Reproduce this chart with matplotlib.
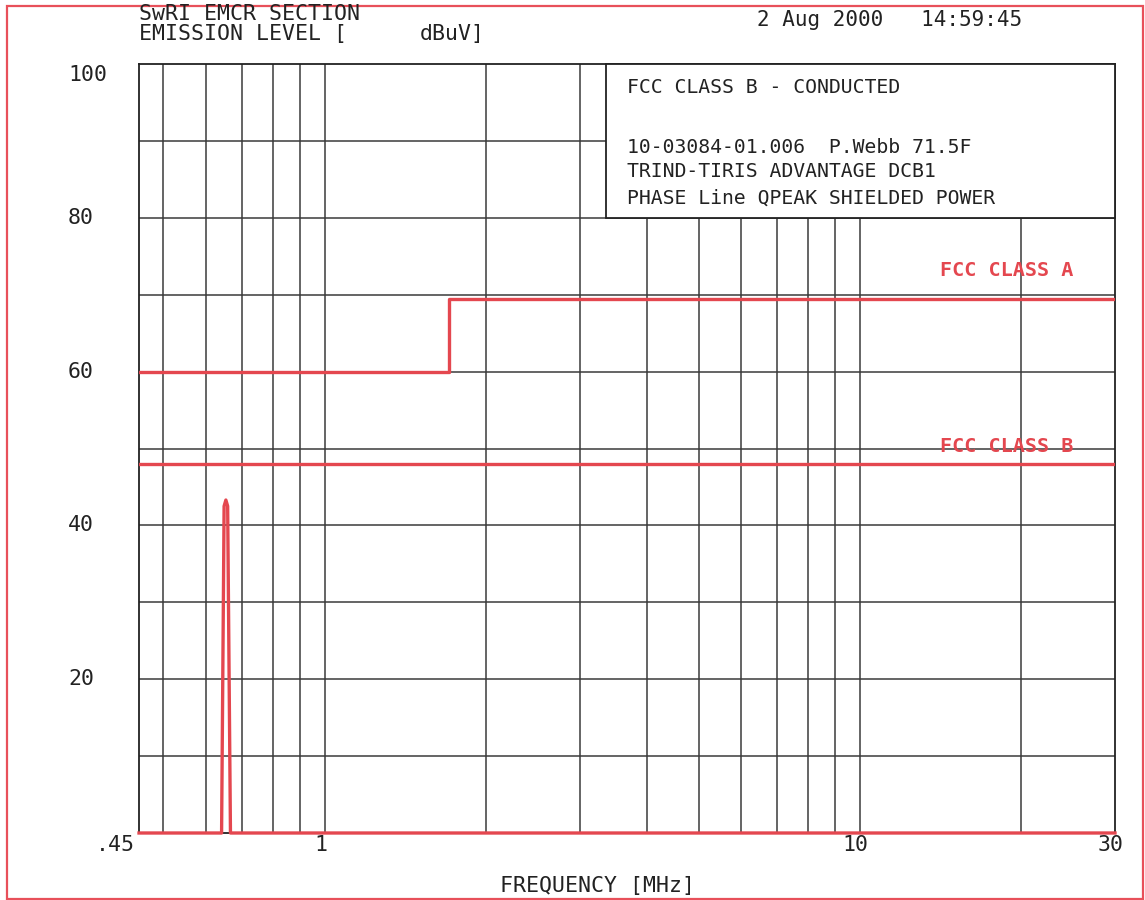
import matplotlib
matplotlib.use("Agg")
import matplotlib.pyplot as plt
from matplotlib.patches import Rectangle
from matplotlib.ticker import NullLocator
from matplotlib.transforms import ScaledTranslation, blended_transform_factory

W, H = 1145, 900

# conducted emission scan (MHz, dBuV)
scan_freq = [0.45, 0.642, 0.649, 0.654, 0.659, 0.667, 30.0]
scan_level = [0.0, 0.0, 42.5, 43.3, 42.5, 0.0, 0.0]

# FCC limit lines
class_a_freq = [0.45, 1.705, 1.705, 30.0]
class_a_level = [60.0, 60.0, 69.5, 69.5]
class_b_freq = [0.45, 30.0]
class_b_level = [48.0, 48.0]

grid_freqs = [0.5, 0.6, 0.7, 0.8, 0.9, 1, 2, 3, 4, 5, 6, 7, 8, 9, 10, 20]
grid_levels = list(range(10, 100, 10))
x_labels = {0.45: ".45", 1: "1", 10: "10", 30: "30"}
y_labels = [20, 40, 60, 80, 100]

header = ["SwRI EMCR SECTION", "EMISSION LEVEL ["]
timestamp = "2 Aug 2000   14:59:45"
box_title = "FCC CLASS B - CONDUCTED"
box_lines = ["10-03084-01.006  P.Webb 71.5F",
             "TRIND-TIRIS ADVANTAGE DCB1",
             "PHASE Line QPEAK SHIELDED POWER"]

RED = "#e4474f"
GRID = "#3a3a3a"
INK = "#222222"
plt.rcParams["font.family"] = ["DejaVu Sans Mono"]
FS = 14.2

fig = plt.figure(figsize=(W / 100, H / 100), dpi=100)
left, right, top, bottom = 139, 1115, 64, 833
ax = fig.add_axes([left / W, 1 - bottom / H, (right - left) / W, (bottom - top) / H])

ax.set_xscale("log")
ax.set_xlim(0.45, 30)
ax.set_ylim(0, 100)
ax.set_xticks(grid_freqs)
ax.xaxis.set_minor_locator(NullLocator())
ax.set_yticks(grid_levels)
ax.tick_params(length=0, labelbottom=False, labelleft=False)
ax.grid(True, color=GRID, linewidth=1.1)
for sp in ax.spines.values():
    sp.set_color(INK)
    sp.set_linewidth(1.3)

# limit lines and scan trace
ax.plot(class_a_freq, class_a_level, color=RED, lw=2.4, zorder=3)
ax.plot(class_b_freq, class_b_level, color=RED, lw=2.4, zorder=3)
ax.plot(scan_freq, scan_level, color=RED, lw=2.4, zorder=4, clip_on=False)

ax.text(14.1, 73.1, "FCC CLASS A", color=RED, fontsize=14.5, fontweight="bold",
        ha="left", va="center", zorder=5)
ax.text(14.1, 50.3, "FCC CLASS B", color=RED, fontsize=14.5, fontweight="bold",
        ha="left", va="center", zorder=5)

# info box in the upper right corner
ax.add_patch(Rectangle((3.36, 80), 30 - 3.36, 20, facecolor="white",
                       edgecolor=INK, lw=1.3, zorder=6, clip_on=False))
ax.text(3.674, 97.0, box_title, fontsize=FS, ha="left", va="center", zorder=7, color=INK)
for yv, line in zip([89.1, 86.0, 82.6], box_lines):
    ax.text(3.674, yv, line, fontsize=FS, ha="left", va="center", zorder=7, color=INK)

# axis labels
ytrans = blended_transform_factory(fig.transFigure, ax.transData)
for v in y_labels:
    off = ScaledTranslation(0, -0.11 if v == 100 else 0, fig.dpi_scale_trans)
    ax.text(68 / W, v, str(v), fontsize=15.5, ha="left", va="center",
            transform=ytrans + off, color=INK)

xtrans = blended_transform_factory(ax.transData, ax.transAxes)
for f, lab in x_labels.items():
    ha = "right" if f == 0.45 else "center"
    off = ScaledTranslation(-0.04, -0.12, fig.dpi_scale_trans)
    ax.text(f, 0, lab, fontsize=15.5, ha=ha, va="center",
            transform=xtrans + off, color=INK)


def fig_text(x, y, s, size=15.5, **kw):
    fig.text(x / W, 1 - y / H, s, fontsize=size, color=INK, va="center", **kw)


fig_text(139, 14, header[0], size=15.5)
fig_text(139, 34, header[1], size=15.5)
fig_text(420, 34, "dBuV]", size=15.5)
fig_text(1022, 20, timestamp, size=15, ha="right")
fig_text(597, 886, "FREQUENCY [MHz]", size=15.5, ha="center")

# red page frame
fig.patches.append(Rectangle((7 / W, 1 / H), 1136 / W, 893 / H, fill=False,
                             edgecolor="#e8505a", lw=1.6, transform=fig.transFigure))

fig.savefig("out.png", dpi=100)
